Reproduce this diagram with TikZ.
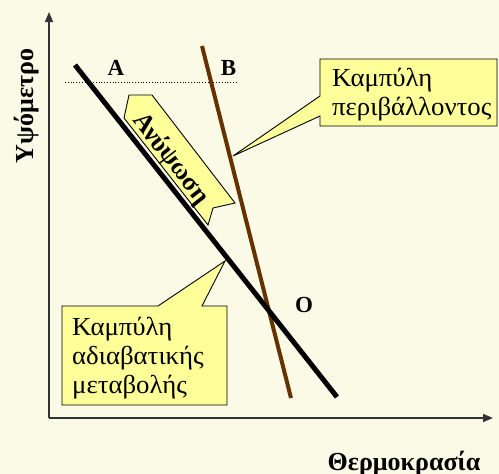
\documentclass[tikz,border=0pt]{standalone}
\usepackage{fontspec}
\setmainfont{Liberation Serif}[Script=Greek]
\newfontfamily\callfont{Liberation Serif}[Script=Greek,FakeStretch=1.03]
\usetikzlibrary{arrows.meta}
\definecolor{bgcol}{HTML}{FAFAE6}
\definecolor{callfill}{HTML}{FFFF99}
\definecolor{brownline}{HTML}{663300}
\definecolor{axiscol}{HTML}{333333}
\begin{document}
\begin{tikzpicture}[x=1pt,y=-1pt,
  axisline/.style={draw=axiscol,line width=1.4pt,-{Triangle[length=10pt,width=8pt]}},
  callout/.style={fill=callfill,draw=black,line width=0.9pt,line join=miter},
  calltext/.style={anchor=base west,align=left,inner sep=0pt,font=\callfont\fontsize{26}{29}\selectfont},
  ptlabel/.style={anchor=center,inner sep=0pt,font=\bfseries\fontsize{23}{27}\selectfont},
  axislabel/.style={anchor=base,inner sep=0pt,font=\bfseries\fontsize{26}{30}\selectfont}]
\fill[bgcol] (0,0) rectangle (499,474);
\useasboundingbox (0,0) rectangle (499,474);
% axes
\coordinate (orig) at (49,418);
\coordinate (ytop) at (49,12);
\coordinate (xend) at (493,418);
\draw[axisline] (orig) -- (ytop);
\draw[axisline] (orig) -- (xend);
% dotted level
\coordinate (d1) at (65,82);
\coordinate (d2) at (238,82);
\draw[dotted,line width=0.8pt] (d1) -- (d2);
% curves
\coordinate (a1) at (75,65);
\coordinate (a2) at (337,397);
\coordinate (b1) at (202,46);
\coordinate (b2) at (291,398);
\draw[line width=4pt,brownline] (b1) -- (b2);
\draw[line width=5pt,black] (a1) -- (a2);
% arrow Ανύψωση
\draw[callout] (129,95) -- (152,95) -- (235,203) -- (213,208) -- (208,225) -- (124,118) -- cycle;
\node[rotate=-52,inner sep=0pt,font=\bfseries\fontsize{26}{30}\selectfont] (rise) at (171,159) {Ανύψωση};
% callout 1
\draw[callout] (320,59) -- (497,59) -- (497,126) -- (320,126) -- (320,116) -- (233,156) -- (320,96) -- cycle;
\node[calltext] (env) at (332,115.7) {Καμπύλη\\περιβάλλοντος};
% callout 2
\draw[callout] (62,306) -- (158,306) -- (225,261) -- (202,306) -- (227,306) -- (227,405) -- (62,405) -- cycle;
\node[calltext] (adiab) at (72,393.3) {Καμπύλη\\αδιαβατικής\\μεταβολής};
% labels
\node[ptlabel] (A) at (116,68) {A};
\node[ptlabel] (B) at (228.5,68) {B};
\node[ptlabel] (O) at (304,305) {O};
\node[axislabel] (temp) at (404,470) {Θερμοκρασία};
\node[axislabel,rotate=90,font=\bfseries\fontsize{26}{30}\selectfont] (alt) at (33,106) {Υψόμετρο};
\end{tikzpicture}
\end{document}
